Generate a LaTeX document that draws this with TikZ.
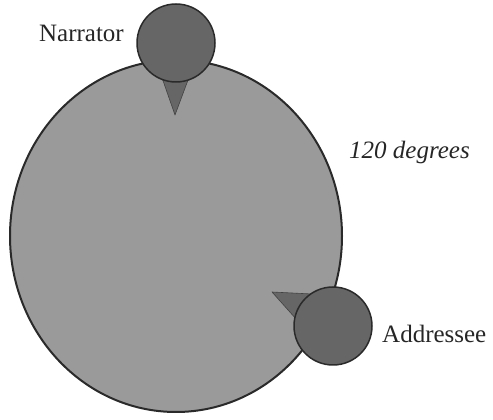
\documentclass[tikz,border=0pt]{standalone}
\usepackage{fontspec}
\setmainfont{Liberation Serif}
\definecolor{bigfill}{HTML}{9A9A9A}
\definecolor{smallfill}{HTML}{666666}
\definecolor{edge}{HTML}{2A2A2A}
\begin{document}
\begin{tikzpicture}[x=1pt,y=1pt,
  person/.style={circle,draw=edge,fill=smallfill,line width=1.5pt,inner sep=0pt,minimum size=78pt},
  pointer/.style={fill=smallfill,draw=edge!60!smallfill,line width=0.6pt,line join=round},
  lbl/.style={font=\fontsize{25}{30}\selectfont,text=black!85,inner sep=0pt}]
\useasboundingbox (0,0) rectangle (493,420);
\draw[edge,fill=bigfill,line width=2pt] (176,184) ellipse [x radius=166, y radius=176];
\coordinate (napex) at (175,305);
\coordinate (aapex) at (272,128);
\draw[pointer] (160,348) -- (napex) -- (191,348) -- cycle;
\draw[pointer] (312,126) -- (aapex) -- (297,100) -- cycle;
\node[person] (narrator) at (176,377) {};
\node[person] (addressee) at (333,94) {};
\node[lbl,anchor=base east] (nlabel) at (124,378) {Narrator};
\node[lbl,anchor=base west] (alabel) at (382,77) {Addressee};
\node[lbl,anchor=base west] (deg) at (349,261) {\itshape 120 degrees};
\end{tikzpicture}
\end{document}
